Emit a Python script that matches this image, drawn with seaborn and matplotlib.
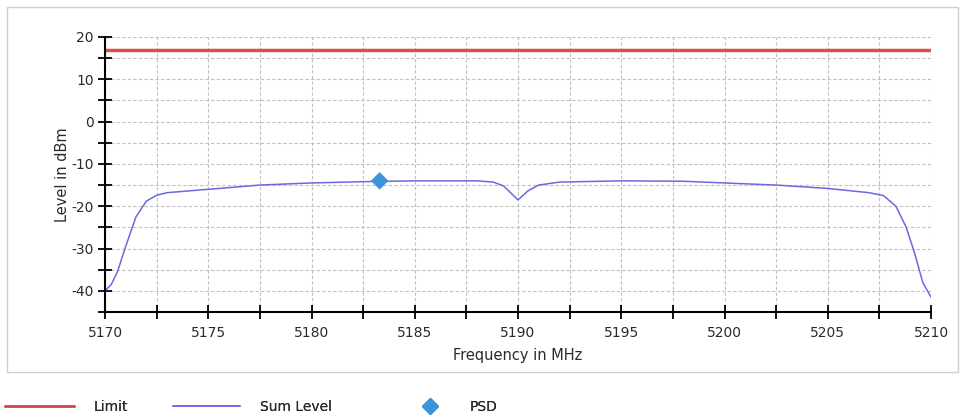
import numpy as np
import pandas as pd
import matplotlib
matplotlib.use('Agg')
import matplotlib.pyplot as plt
import seaborn as sns
from matplotlib.patches import Rectangle
from matplotlib.lines import Line2D

# ---------- data ----------
freq = [5170, 5170.3, 5170.6, 5171, 5171.5, 5172, 5172.5, 5173, 5175, 5177.5, 5180,
        5182.5, 5185, 5188, 5188.8, 5189.3, 5190, 5190.5, 5191, 5192, 5195,
        5198, 5200, 5202.5, 5205, 5207, 5207.7, 5208.3, 5208.8, 5209.2, 5209.6, 5210]
level = [-40, -38.5, -35.5, -29.5, -22.5, -18.8, -17.4, -16.8, -16.0, -15.0, -14.5,
         -14.2, -14.0, -14.0, -14.3, -15.2, -18.5, -16.3, -15.0, -14.3, -14.0,
         -14.1, -14.5, -15.0, -15.8, -16.8, -17.5, -20.0, -25.0, -31.0, -38.0, -41.5]
limit_level = 17
psd_freq = [5183.3]
psd_level = [-14.0]

df = pd.DataFrame({'freq': freq, 'level': level})
df_limit = pd.DataFrame({'freq': [5170, 5210], 'level': [limit_level, limit_level]})
df_psd = pd.DataFrame({'freq': psd_freq, 'level': psd_level})

RED = '#d6504f'
BLUE = '#6a6ae0'
PSD_COL = '#3a95dc'
TXT = '#2a2a2a'

# ---------- plot ----------
sns.set_style('white')
plt.rcParams['font.family'] = ['DejaVu Sans']
plt.rcParams['axes.unicode_minus'] = False

fig = plt.figure(figsize=(9.61, 4.19), dpi=100)
ax = fig.add_axes([0.1093, 0.2554, 0.8595, 0.6563])

# outer frame
fig.patches.append(Rectangle((7 / 961, 1 - 372 / 419), 951 / 961, 365 / 419,
                             transform=fig.transFigure, fill=False,
                             edgecolor='#cfcfcf', linewidth=1))

sns.lineplot(data=df_limit, x='freq', y='level', ax=ax, color=RED, linewidth=2.5)
sns.lineplot(data=df, x='freq', y='level', ax=ax, color=BLUE, linewidth=1.1)
sns.scatterplot(data=df_psd, x='freq', y='level', ax=ax, marker='D', s=80,
                color=PSD_COL, edgecolor='none', zorder=5)

ax.set_xlim(5170, 5210)
ax.set_ylim(-45, 20)
ax.set_xticks(np.arange(5170, 5211, 5))
ax.set_xticks(np.arange(5170, 5211, 2.5), minor=True)
ax.set_yticks(np.arange(-40, 21, 10))
ax.set_yticks(np.arange(-45, 21, 5), minor=True)

ax.grid(True, which='both', linestyle=(0, (3, 2)), color='#c0c0c0', linewidth=0.8)
for side in ['top', 'right']:
    ax.spines[side].set_visible(False)
for side in ['left', 'bottom']:
    ax.spines[side].set_color('black')
    ax.spines[side].set_linewidth(1.5)

ax.tick_params(which='both', direction='inout', length=10, width=1.3, color='black',
               labelsize=10, labelcolor=TXT, left=True, bottom=True)
ax.tick_params(axis='x', pad=5)
ax.tick_params(axis='y', pad=3)
ax.set_xlabel('Frequency in MHz', fontsize=10.5, labelpad=6, color=TXT)
ax.set_ylabel('Level in dBm', fontsize=10.5, labelpad=1, color=TXT)

# legend below the frame, one entry per slot
ly = 1 - 407 / 419
slots = [
    (Line2D([], [], color=RED, linewidth=2), 'Limit', 5, 5.0, 1.4),
    (Line2D([], [], color=BLUE, linewidth=1.2), 'Sum Level', 173, 4.8, 1.5),
    (Line2D([], [], color=PSD_COL, marker='D', linestyle='none', markersize=8), 'PSD', 418, 1.7, 2.0),
]
for h, lab, x0, hl, tp in slots:
    leg = fig.legend([h], [lab], loc='center left', bbox_to_anchor=(x0 / 961, ly),
                     frameon=False, fontsize=10, handlelength=hl, handletextpad=tp,
                     borderpad=0, borderaxespad=0, labelcolor=TXT)
    fig.add_artist(leg)

fig.savefig('out.png', dpi=100)
